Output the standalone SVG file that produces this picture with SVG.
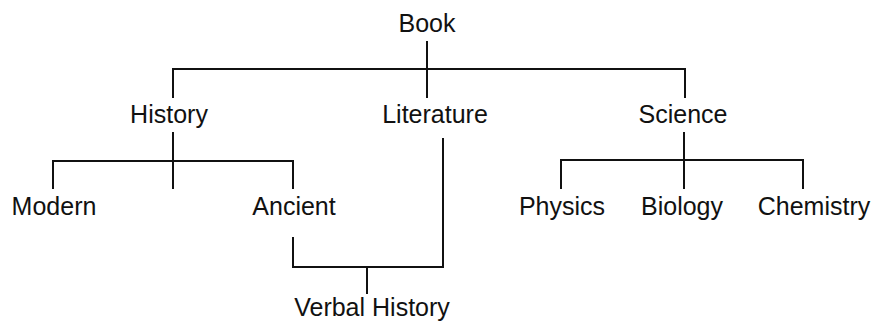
<svg xmlns="http://www.w3.org/2000/svg" width="874" height="323" viewBox="0 0 874 323">
<style>
.t{font-family:"Liberation Sans",Arial,sans-serif;font-size:25px;fill:#111;text-anchor:middle}
.c{stroke:#111;stroke-width:2;fill:none;stroke-linecap:square}
</style>
<rect width="874" height="323" fill="#fff"/>
<g id="connectors" class="c">
<path d="M427 42V97M173 69H685M173 69V97M685 69V97"/>
<path d="M173 133V188M53 161H293M53 161V188M293 161V188"/>
<path d="M443 139V267M293 238V267H443M367 267V293"/>
<path d="M684 133V188M561 160H803M561 160V188M803 160V188"/>
</g>
<g id="book"><text class="t" x="427" y="32">Book</text></g>
<g id="history"><text class="t" x="169" y="123">History</text></g>
<g id="literature"><text class="t" x="435" y="123">Literature</text></g>
<g id="science"><text class="t" x="683" y="123">Science</text></g>
<g id="modern"><text class="t" x="54" y="215">Modern</text></g>
<g id="ancient"><text class="t" x="294" y="215">Ancient</text></g>
<g id="physics"><text class="t" x="562" y="215">Physics</text></g>
<g id="biology"><text class="t" x="682" y="215">Biology</text></g>
<g id="chemistry"><text class="t" x="814" y="215">Chemistry</text></g>
<g id="verbal-history"><text class="t" x="372" y="316">Verbal History</text></g>
</svg>
